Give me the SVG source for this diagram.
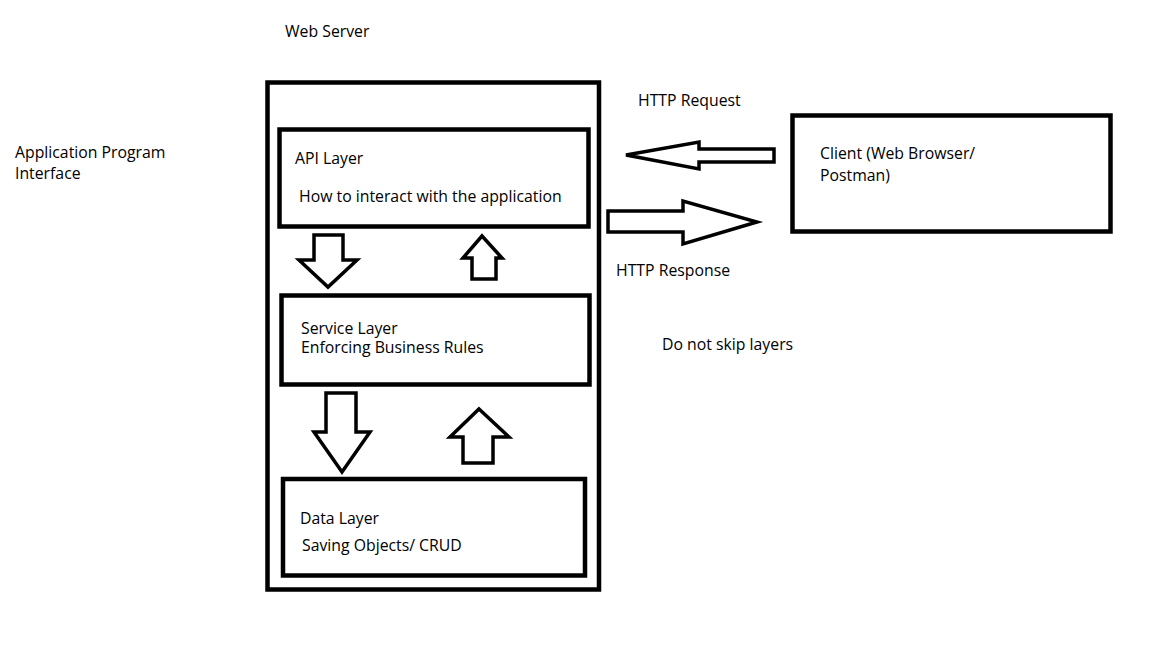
<svg xmlns="http://www.w3.org/2000/svg" width="1152" height="648" viewBox="0 0 1152 648">
<style>
.box{fill:none;stroke:#000;stroke-width:4.5}
.arr{fill:#fff;stroke:#000;stroke-width:3.5;stroke-linejoin:miter}
text{font-family:"Open Sans","Liberation Sans",sans-serif;font-size:15.8px;fill:#000}
</style>
<rect width="1152" height="648" fill="#fff"/>
<g id="web-server">
<rect class="box" x="267.5" y="82.5" width="331.5" height="507"/>
<text x="285" y="37">Web Server</text>
</g>
<g id="api-label">
<text x="15" y="158">Application Program</text>
<text x="15" y="179">Interface</text>
</g>
<g id="api-layer">
<rect class="box" x="279.5" y="129.5" width="309" height="97"/>
<text x="295" y="164">API Layer</text>
<text x="299" y="202">How to interact with the application</text>
</g>
<g id="service-layer">
<rect class="box" x="281.5" y="295.5" width="308" height="89"/>
<text x="301" y="334">Service Layer</text>
<text x="301" y="353">Enforcing Business Rules</text>
</g>
<g id="data-layer">
<rect class="box" x="283" y="479" width="302" height="96.5"/>
<text x="300" y="524">Data Layer</text>
<text x="302" y="551">Saving Objects/ CRUD</text>
</g>
<g id="client">
<rect class="box" x="792.5" y="115.5" width="318" height="116"/>
<text x="820" y="159">Client (Web Browser/</text>
<text x="820" y="181">Postman)</text>
</g>
<g id="notes">
<text x="638" y="106">HTTP Request</text>
<text x="616" y="276">HTTP Response</text>
<text x="662" y="350">Do not skip layers</text>
</g>
<g id="connectors">
<polygon class="arr" points="314,235 343,235 343,260 357,260 328,287 299,260 314,260"/>
<polygon class="arr" points="482,236 502,258 496,258 496,279 472,279 472,258 463,258"/>
<polygon class="arr" points="326,393 356,393 356,432 370,432 342,472 314,432 326,432"/>
<polygon class="arr" points="479,409 509,437 493,437 493,463 463,463 463,437 450,437"/>
<polygon class="arr" points="626,155 699,142 699,149 774,149 774,162 699,162 699,169"/>
<polygon class="arr" points="608,211 683,211 683,201 757,222 683,244 683,232 608,232"/>
</g>
</svg>
